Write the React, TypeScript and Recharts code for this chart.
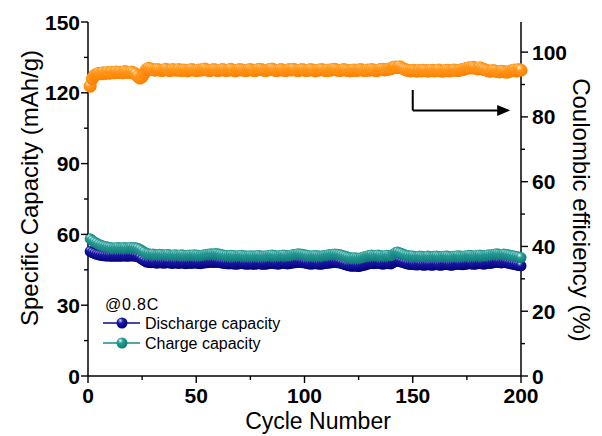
import React from "react";
import { ComposedChart, Line, XAxis, YAxis, ReferenceLine } from "recharts";

const FONT = "'Liberation Sans', Arial, Helvetica, sans-serif";

// Specific capacity (mAh/g), cycles 1..200
const dischargeCapacity = [
  52.8, 52.3, 51.9, 51.5, 51.3, 51.1, 51.0, 50.9, 50.8, 50.8,
  50.7, 50.8, 50.7, 50.8, 50.7, 50.8, 50.9, 50.7, 50.8, 50.9,
  50.8, 50.7, 50.5, 50.1, 49.4, 48.8, 48.3, 48.1, 48.0, 48.1,
  47.9, 47.8, 48.0, 47.9, 47.8, 47.9, 48.0, 47.8, 47.7, 47.9,
  47.8, 47.7, 47.9, 47.8, 47.6, 47.7, 47.8, 47.7, 47.9, 47.8,
  47.7, 47.6, 47.8, 47.9, 48.0, 48.1, 48.2, 48.1, 48.2, 48.1,
  48.0, 47.8, 47.7, 47.6, 47.5, 47.6, 47.5, 47.4, 47.4, 47.6,
  47.7, 47.5, 47.4, 47.4, 47.5, 47.4, 47.3, 47.5, 47.6, 47.4,
  47.3, 47.4, 47.5, 47.7, 47.8, 47.6, 47.5, 47.4, 47.6, 47.8,
  47.7, 47.5, 47.6, 47.8, 47.9, 48.0, 48.2, 48.1, 48.0, 47.9,
  47.7, 47.5, 47.4, 47.5, 47.6, 47.5, 47.3, 47.4, 47.6, 47.7,
  47.8, 47.9, 48.0, 48.1, 48.0, 47.9, 47.7, 47.4, 47.1, 46.8,
  46.6, 46.5, 46.6, 46.5, 46.4, 46.6, 46.8, 47.0, 47.3, 47.6,
  47.7, 47.6, 47.7, 47.8, 47.6, 47.4, 47.5, 47.7, 47.6, 47.5,
  48.0, 48.6, 48.8, 48.5, 48.2, 47.9, 47.6, 47.4, 47.2, 47.3,
  47.1, 47.0, 47.2, 47.1, 46.9, 47.0, 47.2, 47.0, 46.9, 47.1,
  47.2, 47.0, 46.9, 47.1, 47.3, 47.2, 47.0, 46.9, 47.1, 47.3,
  47.4, 47.2, 47.1, 47.3, 47.4, 47.6, 47.5, 47.3, 47.4, 47.6,
  47.7, 47.5, 47.4, 47.6, 47.8, 47.7, 47.9, 48.1, 48.2, 48.0,
  47.9, 48.1, 48.0, 47.8, 47.6, 47.4, 47.2, 47.0, 46.8, 46.7,
];

const chargeCapacity = [
  58.2, 57.4, 56.8, 56.3, 55.8, 55.4, 55.1, 54.9, 54.7, 54.5,
  54.3, 54.2, 54.3, 54.4, 54.2, 54.3, 54.4, 54.2, 54.3, 54.5,
  54.4, 54.3, 54.1, 53.7, 53.1, 52.5, 52.0, 51.8, 51.6, 51.7,
  51.5, 51.4, 51.6, 51.5, 51.3, 51.4, 51.5, 51.3, 51.2, 51.4,
  51.3, 51.2, 51.4, 51.3, 51.1, 51.2, 51.3, 51.2, 51.4, 51.3,
  51.2, 51.1, 51.3, 51.4, 51.6, 51.7, 51.8, 51.7, 51.9, 51.8,
  51.6, 51.4, 51.2, 51.1, 51.0, 51.2, 51.1, 51.0, 50.9, 51.1,
  51.2, 51.0, 50.9, 50.8, 51.0, 50.9, 50.8, 51.0, 51.1, 50.9,
  50.8, 50.9, 51.0, 51.2, 51.3, 51.1, 51.0, 50.9, 51.1, 51.3,
  51.2, 51.0, 51.1, 51.3, 51.5, 51.6, 51.8, 51.7, 51.6, 51.4,
  51.2, 51.0, 50.9, 51.0, 51.1, 51.0, 50.8, 50.9, 51.1, 51.2,
  51.4, 51.5, 51.6, 51.7, 51.6, 51.5, 51.3, 51.0, 50.7, 50.4,
  50.2, 50.0, 50.1, 50.0, 49.9, 50.1, 50.3, 50.6, 50.9, 51.2,
  51.3, 51.1, 51.2, 51.3, 51.1, 50.9, 51.0, 51.2, 51.1, 51.0,
  51.6, 52.3, 52.5, 52.2, 51.9, 51.5, 51.2, 51.0, 50.8, 50.9,
  50.7, 50.6, 50.8, 50.7, 50.5, 50.6, 50.8, 50.6, 50.5, 50.7,
  50.8, 50.6, 50.5, 50.7, 50.9, 50.8, 50.6, 50.5, 50.7, 50.9,
  51.0, 50.8, 50.7, 50.9, 51.0, 51.2, 51.1, 50.9, 51.0, 51.2,
  51.3, 51.1, 51.0, 51.2, 51.4, 51.3, 51.5, 51.7, 51.8, 51.6,
  51.5, 51.7, 51.6, 51.4, 51.2, 51.0, 50.8, 50.6, 50.4, 50.2,
];

// Coulombic efficiency (%), cycles 1..200
const coulombicEfficiency = [
  89.5, 91.8, 92.8, 93.2, 93.5, 93.3, 93.6, 93.4, 93.7, 93.5,
  93.8, 93.6, 93.9, 93.7, 93.8, 93.6, 94.0, 93.8, 93.7, 93.9,
  93.6, 93.2, 92.5, 92.0, 92.4, 93.5, 94.6, 95.0, 94.8, 94.6,
  94.4, 94.6, 94.5, 94.3, 94.5, 94.7, 94.4, 94.3, 94.6, 94.5,
  94.4, 94.6, 94.3, 94.5, 94.4, 94.2, 94.5, 94.6, 94.4, 94.3,
  94.5, 94.4, 94.6, 94.8, 94.5, 94.3, 94.4, 94.6, 94.5, 94.3,
  94.4, 94.6, 94.5, 94.3, 94.5, 94.7, 94.4, 94.2, 94.4, 94.6,
  94.5, 94.4, 94.3, 94.5, 94.6, 94.4, 94.3, 94.5, 94.7, 94.6,
  94.4, 94.3, 94.5, 94.6, 94.8, 94.5, 94.3, 94.4, 94.6, 94.5,
  94.3, 94.4, 94.6, 94.5, 94.7, 94.4, 94.3, 94.5, 94.6, 94.4,
  94.3, 94.5, 94.6, 94.4, 94.2, 94.4, 94.5, 94.6, 94.4, 94.3,
  94.5, 94.4, 94.6, 94.7, 94.5, 94.3, 94.4, 94.6, 94.5, 94.3,
  94.2, 94.4, 94.5, 94.3, 94.5, 94.6, 94.4, 94.3, 94.5, 94.4,
  94.6, 94.5, 94.3, 94.4, 94.6, 94.7, 94.5, 94.6, 94.8, 94.9,
  95.3, 95.4, 95.2, 95.5, 95.1, 94.8, 94.5, 94.3, 94.2, 94.4,
  94.3, 94.1, 94.3, 94.2, 94.4, 94.3, 94.1, 94.3, 94.4, 94.2,
  94.3, 94.5, 94.2, 94.1, 94.3, 94.4, 94.2, 94.3, 94.5, 94.4,
  94.3, 94.5, 94.6, 94.8, 95.0, 95.2, 95.1, 95.3, 95.0, 94.8,
  95.2, 94.9, 94.6, 94.4, 94.2, 94.1, 94.3, 94.2, 94.0, 93.9,
  94.1, 94.0, 93.8, 93.9, 94.1, 94.3, 94.5, 94.2, 94.6, 94.4,
];

const cycleNumbers = dischargeCapacity.map((_, i) => i + 1);

const xTicks = [0, 25, 50, 75, 100, 125, 150, 175, 200];
const xLabels = [0, 50, 100, 150, 200];
const leftTicks = [0, 15, 30, 45, 60, 75, 90, 105, 120, 135, 150];
const leftLabels = [0, 30, 60, 90, 120, 150];
const rightTicks = [0, 10, 20, 30, 40, 50, 60, 70, 80, 90, 100];
const rightLabels = [0, 20, 40, 60, 80, 100];

// arrow annotation (cycle, CE %)
const arrowCorner = { x: 150, y: 82 };
const arrowTop = { x: 150, y: 88.3 };
const arrowTip = { x: 195, y: 82 };

const data = cycleNumbers.map((c, i) => ({
  cycle: c,
  discharge: dischargeCapacity[i],
  charge: chargeCapacity[i],
  ce: coulombicEfficiency[i],
}));

const TICK_STYLE = { fontFamily: FONT, fontWeight: 700, fontSize: 21, fill: "#000" };

function LeftTick(props: any) {
  const { x, y, payload } = props;
  const major = leftLabels.includes(payload.value);
  const ax = x + 8;
  return (
    <g>
      <line x1={ax - (major ? 7 : 4)} x2={ax} y1={y} y2={y} stroke="#000" strokeWidth={1.4} />
      {major && (
        <text x={x} y={y} dy="0.36em" textAnchor="end" style={TICK_STYLE}>
          {payload.value}
        </text>
      )}
    </g>
  );
}

function RightTick(props: any) {
  const { x, y, payload } = props;
  const major = rightLabels.includes(payload.value);
  const ax = x - 11;
  return (
    <g>
      <line x1={ax} x2={ax + (major ? 7 : 4)} y1={y} y2={y} stroke="#000" strokeWidth={1.4} />
      {major && (
        <text x={x} y={y} dy="0.36em" textAnchor="start" style={TICK_STYLE}>
          {payload.value}
        </text>
      )}
    </g>
  );
}

function BottomTick(props: any) {
  const { x, y, payload } = props;
  const major = xLabels.includes(payload.value);
  const ay = y - 12;
  return (
    <g>
      <line x1={x} x2={x} y1={ay} y2={ay + (major ? 7 : 4)} stroke="#000" strokeWidth={1.4} />
      {major && (
        <text x={x} y={y} dy="0.71em" textAnchor="middle" style={TICK_STYLE}>
          {payload.value}
        </text>
      )}
    </g>
  );
}

const makeDot = (grad: string, r: number) => (p: any) => (
  <circle key={`${grad}-${p.index}`} cx={p.cx} cy={p.cy} r={r} fill={`url(#${grad})`} />
);

function ArrowShape(props: any) {
  const { x1, y1, x2, y2 } = props;
  return (
    <g>
      <line x1={x1} y1={y1} x2={x2 - 10} y2={y2} stroke="#000" strokeWidth={2} />
      <polygon points={`${x2},${y2} ${x2 - 13},${y2 - 5.5} ${x2 - 13},${y2 + 5.5}`} fill="#000" />
    </g>
  );
}

function SphereGrad({ id, light, mid, dark }: { id: string; light: string; mid: string; dark: string }) {
  return (
    <radialGradient id={id} cx="38%" cy="32%" r="68%" fx="35%" fy="28%">
      <stop offset="0%" stopColor={light} />
      <stop offset="35%" stopColor={mid} />
      <stop offset="100%" stopColor={dark} />
    </radialGradient>
  );
}

export default function App() {
  return (
    <div style={{ position: "absolute", left: 0, top: 0, width: 602, height: 436, background: "#fff" }}>
      <ComposedChart
        width={602}
        height={436}
        data={data}
        margin={{ top: 22, right: 0, bottom: 0, left: 0 }}
      >
        <defs>
          <SphereGrad id="gOrange" light="#fff2e0" mid="#ff9a1e" dark="#ff7f00" />
          <SphereGrad id="gNavy" light="#d0d0ff" mid="#1a1aa0" dark="#00007a" />
          <SphereGrad id="gTeal" light="#e6fffd" mid="#2a9c96" dark="#0c7a76" />
        </defs>
        <XAxis
          dataKey="cycle"
          type="number"
          domain={[0, 200]}
          ticks={xTicks}
          interval={0}
          height={60}
          tickSize={7}
          tickMargin={5}
          tickLine={false}
          axisLine={{ stroke: "#000", strokeWidth: 1.5 }}
          tick={<BottomTick />}
        />
        <YAxis
          yAxisId="left"
          orientation="left"
          type="number"
          domain={[0, 150]}
          ticks={leftTicks}
          interval={0}
          width={88}
          tickSize={7}
          tickMargin={1}
          tickLine={false}
          axisLine={{ stroke: "#000", strokeWidth: 1.5 }}
          tick={<LeftTick />}
        />
        <YAxis
          yAxisId="right"
          orientation="right"
          type="number"
          domain={[0, 109.3]}
          allowDataOverflow
          ticks={rightTicks}
          interval={0}
          width={81}
          tickSize={7}
          tickMargin={4}
          tickLine={false}
          axisLine={{ stroke: "#000", strokeWidth: 1.5 }}
          tick={<RightTick />}
        />
        <Line
          yAxisId="right"
          dataKey="ce"
          stroke="none"
          isAnimationActive={false}
          dot={makeDot("gOrange", 6.5)}
          activeDot={false}
        />
        <Line
          yAxisId="left"
          dataKey="discharge"
          stroke="none"
          isAnimationActive={false}
          dot={makeDot("gNavy", 5.5)}
          activeDot={false}
        />
        <Line
          yAxisId="left"
          dataKey="charge"
          stroke="none"
          isAnimationActive={false}
          dot={makeDot("gTeal", 5.5)}
          activeDot={false}
        />
        <ReferenceLine
          yAxisId="right"
          segment={[arrowTop, arrowCorner]}
          stroke="#000"
          strokeWidth={2}
        />
        <ReferenceLine
          yAxisId="right"
          segment={[arrowCorner, arrowTip]}
          shape={<ArrowShape />}
        />
      </ComposedChart>
      <svg
        width={602}
        height={436}
        style={{ position: "absolute", left: 0, top: 0, pointerEvents: "none" }}
      >
        <defs>
          <SphereGrad id="gNavyL" light="#d0d0ff" mid="#1a1aa0" dark="#00007a" />
          <SphereGrad id="gTealL" light="#e6fffd" mid="#2a9c96" dark="#0c7a76" />
        </defs>
        <text
          transform="translate(38,188) rotate(-90)"
          textAnchor="middle"
          style={{ fontFamily: FONT, fontSize: 24, fill: "#000" }}
        >
          Specific Capacity (mAh/g)
        </text>
        <text
          transform="translate(573,210) rotate(90)"
          textAnchor="middle"
          style={{ fontFamily: FONT, fontSize: 24, fill: "#000" }}
        >
          Coulombic efficiency (%)
        </text>
        <text x={318} y={429} textAnchor="middle" style={{ fontFamily: FONT, fontSize: 23, fill: "#000" }}>
          Cycle Number
        </text>
        <text x={105} y={310} style={{ fontFamily: FONT, fontSize: 16, fill: "#000", letterSpacing: 0.8 }}>
          @0.8C
        </text>
        <line x1={103} x2={140} y1={323} y2={323} stroke="#0a0a8c" strokeWidth={1.5} />
        <circle cx={122} cy={323} r={5.5} fill="url(#gNavyL)" />
        <text x={145} y={329} style={{ fontFamily: FONT, fontSize: 16, fill: "#000" }}>
          Discharge capacity
        </text>
        <line x1={103} x2={140} y1={343} y2={343} stroke="#1a8a86" strokeWidth={1.5} />
        <circle cx={122} cy={343} r={5.5} fill="url(#gTealL)" />
        <text x={145} y={349} style={{ fontFamily: FONT, fontSize: 16, fill: "#000" }}>
          Charge capacity
        </text>
      </svg>
    </div>
  );
}
